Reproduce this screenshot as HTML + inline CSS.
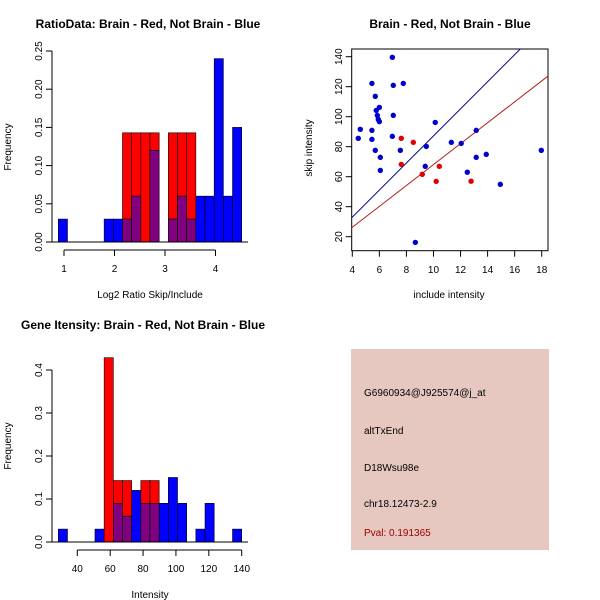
<!DOCTYPE html>
<html><head><meta charset="utf-8"><style>
body{margin:0;background:#fff}
svg{display:block;font-family:"Liberation Sans",sans-serif}
</style></head><body>
<svg id="s" width="600" height="600" viewBox="0 0 600 600">
<rect width="600" height="600" fill="#fff"/>
<text x="148" y="28" font-size="12" font-weight="bold" text-anchor="middle">RatioData: Brain - Red, Not Brain - Blue</text>
<text x="450" y="28" font-size="12" font-weight="bold" text-anchor="middle">Brain - Red, Not Brain - Blue</text>
<text x="143" y="329" font-size="12" font-weight="bold" text-anchor="middle">Gene Itensity: Brain - Red, Not Brain - Blue</text>
<text x="150" y="298" font-size="10" text-anchor="middle">Log2 Ratio Skip/Include</text>
<text x="11" y="147" font-size="10" text-anchor="middle" transform="rotate(-90 11 147)">Frequency</text>
<text x="449" y="298" font-size="10" text-anchor="middle">include intensity</text>
<text x="312" y="148" font-size="10" text-anchor="middle" transform="rotate(-90 312 148)">skip intensity</text>
<text x="150" y="598" font-size="10" text-anchor="middle">Intensity</text>
<text x="11" y="446" font-size="10" text-anchor="middle" transform="rotate(-90 11 446)">Frequency</text>
<g>
<rect x="351" y="349" width="198" height="201" fill="#e6c8c0"/>
<text x="364" y="396" font-size="10">G6960934@J925574@j_at</text>
<text x="364" y="434" font-size="10">altTxEnd</text>
<text x="364" y="471" font-size="10">D18Wsu98e</text>
<text x="364" y="507" font-size="10">chr18.12473-2.9</text>
<text x="364" y="536" font-size="10" fill="#a00000">Pval: 0.191365</text>
</g>
<g id="g"></g>
</svg>
<script>
const ratioRed=[0,0,0,0,0,0,0,0.1429,0.1429,0.1429,0.1429,0,0.1429,0.1429,0.1429,0,0,0,0,0];
const ratioBlue=[0.03,0,0,0,0,0.03,0.03,0.03,0.06,0,0.12,0,0.03,0.06,0.03,0.06,0.06,0.24,0.06,0.15];
const ratioTicksX=[1,2,3,4];
const ratioTicksY=["0.00","0.05","0.10","0.15","0.20","0.25"];
const intRed=[0,0,0,0,0,0.4286,0.1429,0.1429,0,0.1429,0.1429,0,0,0,0,0,0,0,0,0];
const intBlue=[0.03,0,0,0,0.03,0,0.09,0.06,0.12,0.09,0.09,0.09,0.15,0.09,0,0.03,0.09,0,0,0.03];
const intTicksX=[40,60,80,100,120,140];
const intTicksY=["0.0","0.1","0.2","0.3","0.4"];
const blueX=[4.44,4.59,5.45,5.45,5.45,5.70,5.77,5.85,5.92,6.0,6.0,5.70,6.07,6.07,6.96,7.03,7.77,7.03,6.96,7.55,8.66,9.39,9.47,10.13,11.32,12.05,13.16,12.5,13.16,13.9,14.94,17.97];
const blueY=[85.6,91.6,122.2,90.9,84.9,113.6,104.2,100.9,98.2,96.7,106.2,77.6,72.9,64.2,139.6,120.9,122.2,100.9,86.9,77.6,16.2,66.9,80.2,96.2,82.9,82.2,90.9,63,72.9,74.9,54.9,77.6];
const redX=[7.62,8.51,7.62,9.17,10.2,10.43,12.78];
const redY=[85.6,82.9,68.2,61.6,56.9,66.9,57];
const lineSlope=[9.03,6.97];
const lineInt=[-3.1,-1.6];
const scTicksX=[4,6,8,10,12,14,16,18];
const scTicksY=[20,40,60,80,100,120,140];
const NS="http://www.w3.org/2000/svg",G=document.getElementById('g');
function mk(t,a,p){const e=document.createElementNS(NS,t);for(const k in a)e.setAttribute(k,a[k]);(p||G).appendChild(e);return e;}
function hist(red,blue,x0,bw,y0,ys,nm){
  for(let i=0;i<red.length;i++){
    const x=x0+i*bw,r=red[i],b=blue[i];
    const draw=(v,c,n)=>{if(v<=0)return;const e=mk('rect',{x:x,y:y0-v*ys,width:bw,height:v*ys,fill:c,stroke:'#000','stroke-width':0.6});
      
      };
    draw(r,'#ff0000',nm+'-red-bar');draw(b,'#0000ff',nm+'-blue-bar');
    if(r>0&&b>0)draw(Math.min(r,b),'#800080',nm+'-overlap-bar');
  }
  const l=mk('line',{x1:52,x2:248,y1:y0,y2:y0,stroke:'#000'});
  
  
}
function axisX(vals,f,y,labY,nm){
  mk('line',{x1:f(vals[0]),x2:f(vals[vals.length-1]),y1:y,y2:y,stroke:'#000'});
  vals.forEach(v=>{mk('line',{x1:f(v),x2:f(v),y1:y,y2:y+6,stroke:'#000'});
    const t=mk('text',{x:f(v),y:labY,'font-size':10,'text-anchor':'middle'});t.textContent=v;
    
    });
}
function axisY(labels,f,x,nm){
  mk('line',{x1:x,x2:x,y1:f(0),y2:f(labels.length-1),stroke:'#000'});
  labels.forEach((v,i)=>{const y=f(i);mk('line',{x1:x-6,x2:x,y1:y,y2:y,stroke:'#000'});
    const t=mk('text',{x:x-10,y:y,'font-size':10,'text-anchor':'middle',transform:`rotate(-90 ${x-10} ${y})`});t.textContent=v;
    
    });
}
// ratio histogram
hist(ratioRed,ratioBlue,58.3,9.17,242,764,'ratio');
axisX(ratioTicksX,v=>64+(v-1)*50.5,250,272,'ratio-x');
axisY(ratioTicksY,i=>242-i*0.05*764,52,'ratio-y');
// intensity histogram
hist(intRed,intBlue,58.3,9.17,542,430,'intensity');
axisX(intTicksX,v=>77.3+(v-40)*1.644,550,572,'intensity-x');
axisY(intTicksY,i=>542-i*0.1*430,52,'intensity-y');
// scatter
const sx=v=>352.3+(v-4)*13.53, sy=v=>236.7-(v-20)*1.5;
const clip=mk('clipPath',{id:'cp'});mk('rect',{x:351.7,y:49,width:196.3,height:201.7},clip);
const box=mk('rect',{x:351.7,y:49,width:196.3,height:201.7,fill:'none',stroke:'#000'});


const cols=['#00008b','#b22222'];
lineSlope.forEach((m,i)=>{const b=lineInt[i];const l=mk('line',{x1:sx(3),y1:sy(b+m*3),x2:sx(20),y2:sy(b+m*20),stroke:cols[i],'stroke-width':1,'clip-path':'url(#cp)'});
  
  });
blueX.forEach((v,i)=>{const c=mk('circle',{cx:sx(v),cy:sy(blueY[i]),r:2.7,fill:'#0000cd'});
  
  });
redX.forEach((v,i)=>{const c=mk('circle',{cx:sx(v),cy:sy(redY[i]),r:2.7,fill:'#e00000'});
  
  });
scTicksX.forEach(v=>{mk('line',{x1:sx(v),x2:sx(v),y1:250.7,y2:256.7,stroke:'#000'});
  const t=mk('text',{x:sx(v),y:273,'font-size':10,'text-anchor':'middle'});t.textContent=v;
  
  });
scTicksY.forEach(v=>{const y=sy(v);mk('line',{x1:345.7,x2:351.7,y1:y,y2:y,stroke:'#000'});
  const t=mk('text',{x:342,y:y,'font-size':10,'text-anchor':'middle',transform:`rotate(-90 342 ${y})`});t.textContent=v;
  
  });
</script>
</body></html>
